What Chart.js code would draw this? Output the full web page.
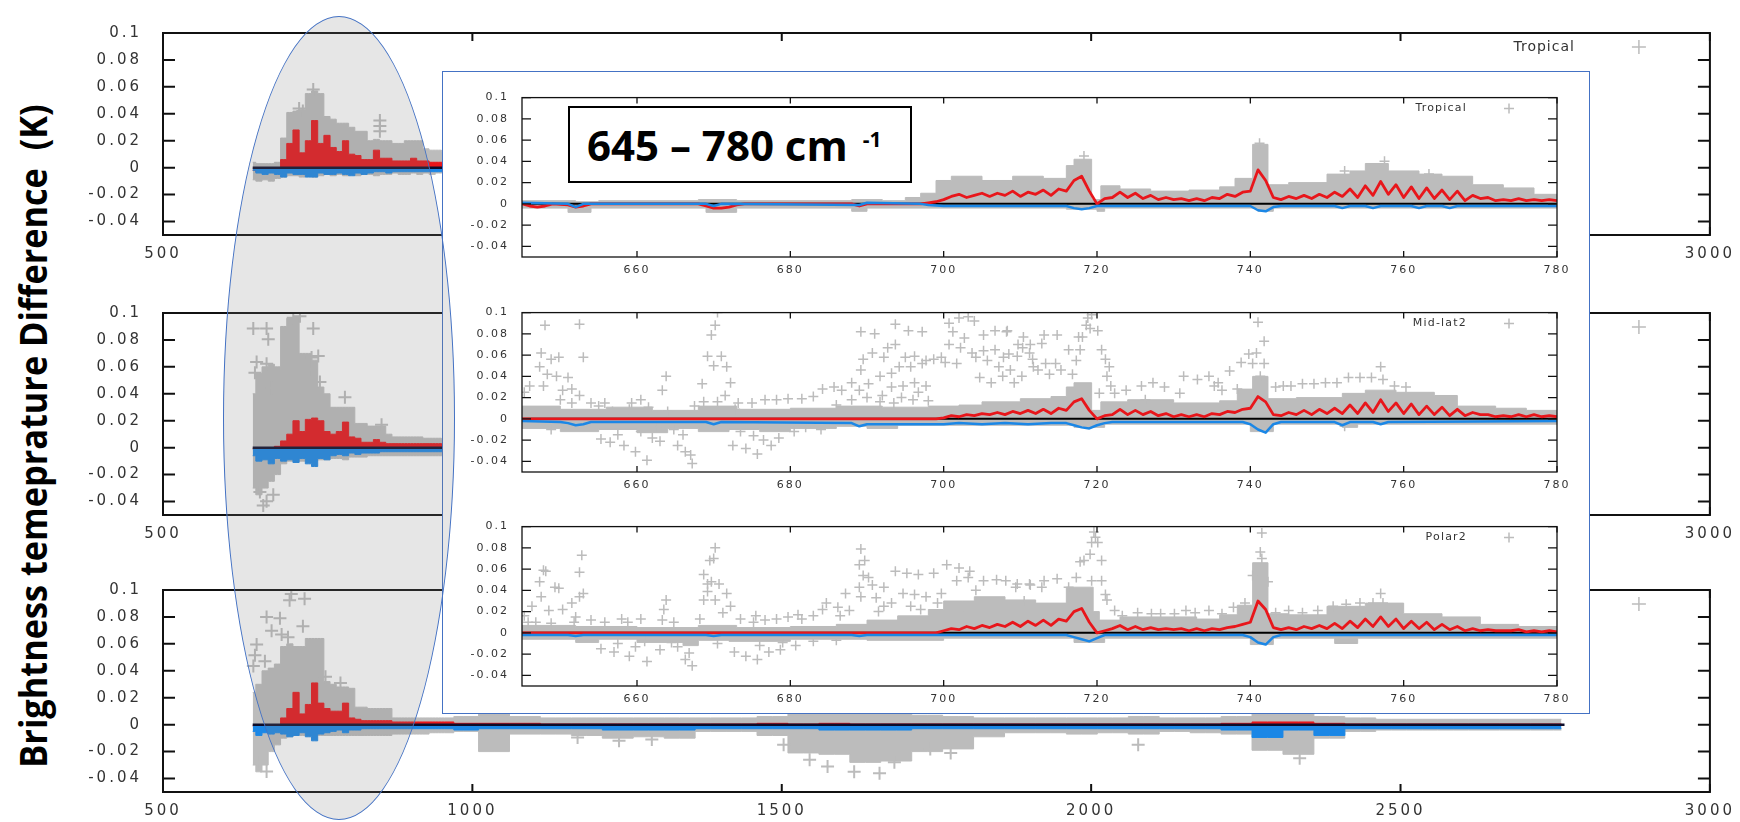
<!DOCTYPE html>
<html>
<head>
<meta charset="utf-8">
<title>Brightness temperature difference</title>
<script src="https://cdn.jsdelivr.net/npm/chart.js@4.4.1/dist/chart.umd.min.js"></script>
<style>
  html, body { margin: 0; padding: 0; background: #fff; overflow: hidden; }
  #stage { position: relative; width: 1740px; height: 822px; overflow: hidden; background: #fff; }
  #stage canvas { position: absolute; }
  .bg { z-index: 1; }
  #inset { position: absolute; left: 442px; top: 71px; width: 1148px; height: 643px; box-sizing: border-box; border: 1.5px solid #4472c4; background: #fff; z-index: 2; }
  .in { z-index: 3; }
  #range { position: absolute; left: 568px; top: 106px; width: 344px; height: 77px; box-sizing: border-box; border: 2px solid #000; background: #fff; z-index: 4; font-family: "Open Sans", sans-serif; font-weight: 700; color: #000; }
  #range .main { position: absolute; left: 17px; top: 16px; font-size: 42px; line-height: 42px; white-space: nowrap; }
  #range sup { font-size: 21px; position: relative; top: -14px; margin-left: 15px; vertical-align: baseline; }
  #oval { position: absolute; left: 223px; top: 16px; width: 232px; height: 804px; box-sizing: border-box; border: 1.5px solid #4472c4; border-radius: 50%; background: rgba(128,128,128,0.2); z-index: 5; }
  #ytitle { position: absolute; font-family: "Open Sans", sans-serif; font-weight: 700; font-size: 38px; line-height: 1; white-space: pre; color: #000; z-index: 6; }
</style>
</head>
<body>
<div id="stage">
  <canvas id="bgTrop" class="bg" width="1666" height="264" style="left:73px;top:3px"></canvas>
  <canvas id="bgMid" class="bg" width="1666" height="264" style="left:73px;top:283px"></canvas>
  <canvas id="bgPol" class="bg" width="1666" height="264" style="left:73px;top:560px"></canvas>
  <div id="inset"></div>
  <canvas id="inTrop" class="in" width="1125" height="201" style="left:452px;top:78px"></canvas>
  <canvas id="inMid" class="in" width="1125" height="201" style="left:452px;top:293px"></canvas>
  <canvas id="inPol" class="in" width="1125" height="201" style="left:452px;top:507px"></canvas>
  <div id="range"><span class="main">645 – 780 cm<sup>-1</sup></span></div>
  <div id="oval"></div>
  <div id="ytitle">Brightness temeprature Difference  (K)</div>
</div>
<script>
// axes
const BG_XTICKS = [500, 1000, 1500, 2000, 2500, 3000];
const IN_XTICKS = [660, 680, 700, 720, 740, 760, 780];
const Y_TICKS = [-0.04, -0.02, 0, 0.02, 0.04, 0.06, 0.08, 0.1];

// full spectrum panels: channel centres (cm-1)
const bgWn = [645,655,665,675,685,695,705,715,725,735,745,755,765,775,785,795,805,815,825,835,845,855,865,875,885,895,905,915,925,935,945,955,
  985,1035,1085,1135,1185,1235,1285,1335,1385,1435,1485,1535,1585,1635,1685,1735,1785,1835,1885,1935,1985,2035,2085,2135,2185,2235,2285,2335,2385,2435,2485,2535,2585,2635,2685,2735,2760];

// Tropical (full range)
const trpBgHi = [.004,.003,.003,.003,.004,.022,.041,.042,.043,.055,.057,.055,.038,.036,.033,.033,.03,.027,.027,.02,.021,.02,.02,.018,.018,.02,.02,.02,.014,.013,.013,.012,
  .012,.01,.009,.008,.008,.008,.007,.007,.006,.006,.006,.008,.01,.01,.009,.008,.008,.006,.006,.006,.006,.007,.006,.006,.006,.008,.01,.01,.008,.006,.005,.004,.004,.004,.004,.004,.004];
const trpBgLo = [-.009,-.01,-.009,-.01,-.008,-.007,-.006,-.006,-.007,-.006,-.007,-.006,-.005,-.006,-.005,-.006,-.005,-.006,-.005,-.005,-.006,-.005,-.005,-.004,-.005,-.005,-.004,-.005,-.004,-.005,-.004,-.004,
  -.005,-.006,-.005,-.005,-.005,-.006,-.005,-.005,-.004,-.004,-.005,-.008,-.009,-.01,-.009,-.007,-.006,-.005,-.005,-.005,-.005,-.005,-.005,-.005,-.005,-.006,-.008,-.008,-.006,-.004,-.004,-.004,-.004,-.004,-.004,-.004,-.004];
const trpBgRed = [-.002,-.003,-.003,-.002,-.001,.006,.018,.028,.011,.02,.035,.018,.024,.015,.012,.02,.01,.009,.006,.006,.013,.007,.007,.005,.005,.005,.007,.005,.005,.004,.004,.004,
  .004,.003,.003,.002,.002,.002,.002,.002,.002,.002,.002,.002,.003,.003,.002,.002,.002,.002,.002,.002,.002,.002,.002,.002,.002,.003,.004,.004,.002,.002,.001,.001,.001,.001,.001,.001,.001];
const trpBgBlue = [-.002,-.004,-.005,-.004,-.005,-.007,-.004,-.005,-.005,-.007,-.007,-.004,-.005,-.005,-.004,-.005,-.006,-.004,-.005,-.004,-.003,-.003,-.004,-.003,-.003,-.003,-.003,-.003,-.003,-.003,-.003,-.003,
  -.003,-.003,-.003,-.003,-.003,-.003,-.003,-.003,-.002,-.002,-.003,-.004,-.004,-.005,-.004,-.003,-.003,-.003,-.003,-.003,-.003,-.003,-.003,-.003,-.003,-.004,-.006,-.004,-.005,-.003,-.002,-.002,-.002,-.002,-.002,-.002,-.002];
const trpBgCross = [[742.8,.058],[850.5,.035],[850.5,.031],[850.5,.027],[720,.044],[726,.042]];

// Mid-lat2 (full range)
const midBgHi = [.04,.055,.06,.062,.06,.09,.096,.096,.07,.07,.065,.045,.04,.03,.03,.03,.03,.018,.018,.016,.016,.016,.01,.008,.008,.008,.008,.008,.007,.007,.007,.006,
  .012,.011,.01,.009,.009,.008,.008,.008,.007,.007,.008,.012,.014,.015,.012,.01,.009,.008,.007,.007,.007,.008,.007,.007,.007,.01,.014,.014,.01,.007,.006,.005,.005,.005,.005,.005,.005];
const midBgLo = [-.03,-.035,-.03,-.025,-.02,-.012,-.01,-.01,-.01,-.01,-.01,-.009,-.009,-.008,-.008,-.009,-.007,-.007,-.007,-.006,-.006,-.006,-.006,-.006,-.006,-.006,-.006,-.006,-.006,-.006,-.006,-.006,
  -.006,-.012,-.007,-.007,-.008,-.009,-.009,-.009,-.006,-.006,-.008,-.016,-.018,-.022,-.02,-.015,-.012,-.008,-.006,-.006,-.007,-.006,-.007,-.006,-.006,-.007,-.014,-.016,-.009,-.005,-.004,-.004,-.004,-.004,-.004,-.004,-.004];
const midBgRed = [-.001,0,0,0,.001,.005,.01,.02,.012,.021,.022,.02,.012,.01,.012,.019,.008,.007,.004,.004,.006,.004,.003,.003,.003,.003,.003,.003,.003,.003,.003,.003,
  .003,.003,.002,.002,.002,.002,.002,.002,.002,.002,.002,.003,.003,.003,.002,.002,.002,.002,.002,.002,.002,.002,.002,.002,.002,.003,.003,.003,.002,.002,.001,.001,.001,.001,.001,.001,.001];
const midBgBlue = [-.006,-.01,-.009,-.012,-.008,-.01,-.009,-.011,-.008,-.012,-.014,-.008,-.009,-.006,-.005,-.006,-.004,-.005,-.004,-.004,-.004,-.003,-.003,-.003,-.003,-.003,-.003,-.003,-.003,-.003,-.003,-.003,
  -.004,-.003,-.003,-.003,-.003,-.004,-.004,-.004,-.003,-.003,-.003,-.004,-.005,-.005,-.004,-.003,-.003,-.003,-.003,-.003,-.003,-.003,-.003,-.003,-.003,-.004,-.008,-.004,-.006,-.003,-.002,-.002,-.002,-.002,-.002,-.002,-.002];
const midBgCross = [[645.9,.0885],[667.4,.0885],[670.1,.0806],[651.3,.0636],[667.4,.0624],[648.6,.0556],[667.4,.0488],[675.5,.0443],
  [710.5,.0965],[721.3,.0976],[742.8,.0885],[740.1,.067],[750.9,.068],[737.5,.058],[753.6,.0488],[794,.0375],[853.2,.017],
  [667.4,-.0397],[656.6,-.033],[678.2,-.035],[662,-.043]];

// Polar2 (full range)
const polBgHi = [.024,.03,.04,.042,.045,.058,.06,.058,.058,.064,.064,.064,.032,.03,.028,.028,.027,.013,.013,.012,.012,.012,.012,.005,.005,.005,.005,.005,.005,.005,.005,.005,
  .006,.008,.006,.005,.005,.005,.005,.005,.005,.005,.006,.008,.01,.01,.008,.007,.006,.005,.005,.005,.005,.005,.006,.005,.005,.006,.008,.008,.006,.005,.004,.004,.004,.004,.004,.004,.004];
const polBgLo = [-.03,-.035,-.03,-.02,-.015,-.01,-.009,-.008,-.008,-.008,-.008,-.008,-.008,-.008,-.008,-.008,-.008,-.008,-.008,-.008,-.008,-.008,-.008,-.007,-.007,-.007,-.007,-.007,-.007,-.006,-.006,-.006,
  -.005,-.02,-.007,-.007,-.008,-.01,-.009,-.01,-.005,-.005,-.008,-.021,-.022,-.028,-.027,-.02,-.018,-.009,-.006,-.006,-.007,-.006,-.007,-.005,-.006,-.007,-.019,-.022,-.01,-.005,-.004,-.004,-.004,-.004,-.004,-.004,-.004];
const polBgRed = [-.001,0,0,0,0,.005,.012,.024,.008,.015,.031,.016,.012,.01,.01,.016,.005,.004,.003,.003,.003,.003,.003,.002,.002,.002,.002,.002,.002,.002,.002,.002,
  .001,.001,.001,.0005,.0005,.0005,.0005,.0005,.0005,.0005,.001,.0005,.001,.0005,.0005,.0005,.0005,.0005,.0005,.0005,.0005,.0005,.0005,.0005,.0005,.001,.002,.002,.001,.0005,.0005,.0005,.0005,.0005,.0005,.0005,.0005];
const polBgBlue = [-.005,-.008,-.006,-.007,-.006,-.007,-.009,-.008,-.006,-.009,-.012,-.007,-.006,-.005,-.004,-.006,-.004,-.004,-.003,-.003,-.003,-.003,-.003,-.003,-.003,-.003,-.003,-.003,-.003,-.003,-.003,-.003,
  -.004,-.003,-.003,-.003,-.003,-.004,-.004,-.004,-.003,-.003,-.003,-.003,-.004,-.004,-.004,-.003,-.003,-.003,-.003,-.003,-.003,-.003,-.003,-.003,-.003,-.004,-.0095,-.004,-.008,-.003,-.003,-.003,-.003,-.003,-.003,-.003,-.003];
const polBgCross = [[707.3,.097],[704.6,.0924],[728.8,.0935],[667.4,.08],[689,.079],[675.5,.0697],[691.7,.067],[726.1,.073],[702,.065],
  [651.3,.0595],[648.6,.0515],[664.7,.047],[646,.0436],[786.8,.031],[762.6,.0356],[667.4,-.0347],[656.6,-.028],
  [1170,-.0095],[1237,-.012],[1290,-.011],[1503,-.015],[1545,-.026],[1574,-.031],[1617,-.035],[1658,-.036],[1682,-.028],
  [1740,-.018],[1773,-.021],[2076,-.015],[2337,-.025]];

// 645-780 zoom: Tropical
const trpRed = [[645,0],[646,-.002],[647,-.003],[648,-.002],[649,0],[651,-.001],[652,-.003],[653,-.002],[654,0],[668,0],[669,-.002],[670,-.004],[671,-.004],[672,-.003],[673,-.001],[674,0],[688,0],[689,-.002],[690,0],[697,0],
  [698,.001],[699,.002],[700,.004],[701,.007],[702,.009],[703,.006],[704,.008],[705,.01],[706,.007],[707,.01],[708,.008],[709,.012],[710,.007],[711,.011],[712,.009],[713,.013],[714,.008],[715,.014],[716,.012],[717,.022],[718,.026],[719,.012],[720,0],
  [721,.005],[722,.006],[723,.011],[724,.006],[725,.01],[726,.005],[727,.008],[728,.004],[729,.006],[730,.004],[731,.005],[732,.003],[733,.005],[734,.003],[735,.006],[736,.005],[737,.009],[738,.007],[739,.011],[740,.012],[741,.032],[742,.022],[743,.006],
  [744,.004],[745,.007],[746,.005],[747,.008],[748,.005],[749,.009],[750,.006],[751,.011],[752,.007],[753,.014],[754,.006],[755,.017],[756,.008],[757,.021],[758,.009],[759,.018],[760,.006],[761,.016],[762,.005],[763,.015],[764,.005],[765,.013],
  [766,.004],[767,.012],[768,.003],[769,.008],[770,.005],[771,.006],[772,.003],[773,.004],[774,.003],[775,.005],[776,.003],[777,.004],[778,.003],[779,.004],[780,.003]];
const trpBlue = [[645,.001],[651,0],[652,-.003],[653,0],[669,0],[670,-.002],[671,0],[689,-.001],[690,.001],[697,0],[698,-.001],[700,-.002],[716,-.002],[717,-.004],[718,-.005],[719,-.004],[720,-.002],[740,-.002],[741,-.006],[742,-.007],[743,-.003],
  [744,-.002],[751,-.002],[752,-.004],[753,-.002],[755,-.002],[756,-.004],[757,-.002],[761,-.002],[762,-.004],[763,-.002],[765,-.002],[766,-.004],[767,-.002],[780,-.002]];
const trpHi = [[645,.003],[652,.002],[655,.003],[668,.004],[673,.003],[688,.004],[692,.003],[695,.006],[697,.01],[699,.022],[701,.026],[705,.022],[709,.026],[713,.024],[716,.036],[717,.042],[719.3,.004],[720.5,.017],[723,.014],[727,.012],[732,.013],
  [736,.016],[738,.024],[740.3,.056],[742.3,.018],[745,.02],[750,.028],[753,.031],[755,.038],[758,.031],[762,.028],[765,.026],[769,.018],[773,.015],[777,.009],[780,.008]];
const trpLo = [[645,-.004],[651,-.008],[654,-.004],[669,-.008],[673,-.004],[688,-.007],[690,-.004],[716,-.005],[720,-.007],[721,-.004],[741,-.007],[743,-.004],[780,-.004]];
const trpCross = [[718.3,.045],[741.2,.057],[752.3,.031],[763.3,.028],[757.5,.04]];

// 645-780 zoom: Mid-lat2
const midRed = [[645,0],[699,0],[700,.001],[701,.003],[702,.002],[703,.004],[704,.003],[705,.005],[706,.004],[707,.006],[708,.004],[709,.007],[710,.005],[711,.008],[712,.005],[713,.009],[714,.005],[715,.01],[716,.008],[717,.016],[718,.019],[719,.008],[720,0],
  [721,.003],[722,.004],[723,.009],[724,.004],[725,.008],[726,.004],[727,.007],[728,.003],[729,.005],[730,.002],[731,.004],[732,.002],[733,.004],[734,.002],[735,.005],[736,.004],[737,.007],[738,.006],[739,.009],[740,.01],[741,.021],[742,.016],[743,.004],
  [744,.003],[745,.006],[746,.004],[747,.008],[748,.004],[749,.009],[750,.005],[751,.01],[752,.005],[753,.013],[754,.005],[755,.015],[756,.006],[757,.018],[758,.007],[759,.015],[760,.005],[761,.014],[762,.004],[763,.012],[764,.004],[765,.011],
  [766,.003],[767,.009],[768,.003],[769,.006],[770,.004],[771,.004],[772,.002],[773,.003],[774,.002],[775,.004],[776,.002],[777,.004],[778,.002],[779,.003],[780,.002]];
const midBlue = [[645,-.002],[650,-.003],[651,-.004],[652,-.006],[653,-.005],[654,-.003],[669,-.003],[670,-.005],[671,-.003],[688,-.004],[689,-.007],[690,-.005],[700,-.005],[702,-.004],[705,-.005],[708,-.004],[711,-.005],[714,-.004],[716,-.004],
  [717,-.006],[718,-.008],[719,-.009],[720,-.006],[721,-.004],[722,-.003],[739,-.003],[740,-.005],[741,-.01],[742,-.013],[743,-.005],[744,-.003],[751,-.003],[752,-.006],[753,-.003],[756,-.003],[757,-.005],[758,-.003],[780,-.002]];
const midHi = [[645,.012],[650,.009],[656,.011],[662,.008],[668,.012],[673,.009],[680,.01],[686,.012],[692,.011],[698,.012],[702,.013],[705,.016],[710,.019],[714,.021],[716,.03],[717,.034],[719.3,.008],[720.5,.016],[724,.018],[730,.015],[736,.017],
  [738.3,.028],[740.3,.04],[742.3,.019],[746,.02],[752,.024],[755,.027],[759,.025],[764,.022],[767,.012],[772,.01],[776,.008],[780,.008]];
const midLo = [[645,-.009],[650,-.012],[655,-.01],[660,-.013],[664,-.009],[668,-.012],[672,-.01],[676,-.012],[680,-.009],[686,-.007],[690,-.009],[694,-.006],[717,-.008],[721,-.005],[740,-.012],[743,-.005],[752,-.008],[754,-.005],[780,-.005]];
const midCross = [[648.0,.088],[652.5,.089],[647.5,.062],[647.3,.049],[648.8,.056],[649.8,.058],[653.0,.058],[648.3,.042],[649.5,.04],[651.0,.039],[646.0,.031],[647.8,.031],[650.3,.027],[651.5,.028],[652.5,.022],[645.3,.025],
  [654.0,.015],[655.8,.015],[648.8,-.01],[651.5,.015],[659.3,.015],[660.5,.018],[659.0,.009],[656.8,.007],[655.3,-.019],[656.5,-.022],[658.3,-.025],[659.8,-.031],[661.3,-.039],[662.0,-.018],[663.0,-.021],[663.8,.04],[663.3,.027],
  [664.0,.007],[665.3,-.025],[666.3,-.031],[667.0,-.034],[667.2,-.042],[664.8,-.01],[668.5,.033],[669.2,.059],[670.0,.05],[669.7,.079],[670.2,.088],[670.5,.1],[671.0,.059],[671.7,.049],[672.2,.034],[671.5,.022],[668.7,.016],
  [670.5,.016],[673.2,.015],[675.0,.015],[672.5,-.025],[674.2,-.028],[675.7,-.033],[677.5,-.025],[675.2,-.016],[676.7,.018],[678.2,.018],[679.7,.019],[681.5,.019],[683.0,.021],[684.2,.028],[685.7,.03],[686.7,.027],[688.0,.034],
  [689.0,.027],[690.2,.033],[689.2,.046],[689.5,.056],[689.2,.082],[691.0,.08],[693.7,.089],[695.4,.083],[697.2,.082],[690.7,.062],[692.7,.067],[692.2,.058],[693.7,.07],[695.0,.058],[696.2,.059],[697.7,.055],[698.7,.056],
  [699.7,.058],[694.2,.049],[695.7,.049],[697.2,.052],[691.7,.04],[693.2,.043],[694.7,.031],[696.2,.034],[697.7,.031],[693.2,.03],[691.7,.016],[693.5,.015],[696.7,.025],[700.7,.09],[702.0,.095],[703.2,.096],[704.0,.092],
  [701.2,.082],[702.7,.076],[705.2,.079],[706.7,.083],[708.2,.082],[710.4,.077],[700.7,.07],[702.2,.067],[703.7,.062],[705.2,.064],[706.7,.065],[708.5,.061],[709.7,.07],[711.2,.062],[700.2,.053],[701.7,.052],[704.2,.058],
  [705.7,.055],[707.2,.049],[708.7,.046],[710.2,.04],[711.7,.049],[704.7,.039],[706.2,.034],[707.7,.04],[709.2,.034],
  [708.3,.083],[710.3,.067],[709.6,.059],[707.8,.058],[711.3,.07],[713.1,.079],[714.8,.079],[712.8,.071],[711.6,.056],[713.3,.052],[714.6,.052],[712.3,.046],[713.8,.042],[715.3,.046],[716.3,.065],[717.8,.065],[717.3,.055],
  [716.8,.042],[717.6,.077],[718.1,.077],[718.6,.088],[718.8,.095],[719.3,.098],[719.1,.085],[720.1,.083],[720.6,.065],[721.1,.056],[721.6,.049],[721.3,.04],[721.8,.031],[720.3,.024],[722.3,.024],[723.8,.027],[725.8,.031],
  [727.3,.034],[728.8,.03],[730.8,.024],[731.3,.04],[733.1,.037],[734.6,.04],[735.8,.034],[737.3,.045],[738.8,.053],[739.8,.061],[740.3,.052],[741.8,.052],[741.8,.073],[741.0,.091],[740.8,.062],[741.3,.04],[743.3,.03],
  [744.3,.031],[745.3,.031],[746.8,.033],[748.3,.033],[749.8,.034],[751.3,.034],[752.8,.039],[754.3,.039],[755.8,.039],[757.0,.049],[757.3,.037],[758.8,.031],[760.3,.03],[736.3,.027],[738.3,.028],[735.3,.031],[726.3,.018],[752.3,-.007],
  [657.5,-.015],[660.5,-.012],[662.5,-.008],[666,-.015],[673.5,-.012],[676.5,-.02],[678.5,-.018],[680.5,-.012],[682,-.008],[684,-.01],[686,.013],[688,.018],[690,.02],[692,.022],[694.5,.02],[696,.018],[698,.017],
  [650,.018],[655,.012],[661.5,.011],[667.5,.012],[672.8,.009]];

// 645-780 zoom: Polar2
const polRed = [[645,0],[699,0],[700,.002],[701,.004],[702,.003],[703,.006],[704,.004],[705,.007],[706,.005],[707,.008],[708,.006],[709,.01],[710,.006],[711,.011],[712,.007],[713,.012],[714,.007],[715,.013],[716,.011],[717,.02],[718,.023],[719,.01],[720,0],
  [721,.002],[722,.004],[723,.007],[724,.003],[725,.006],[726,.003],[727,.005],[728,.003],[729,.004],[730,.003],[731,.004],[732,.002],[733,.004],[734,.002],[735,.004],[736,.003],[737,.005],[738,.006],[739,.008],[740,.01],[741,.03],[742,.022],[743,.005],
  [744,.003],[745,.005],[746,.003],[747,.006],[748,.004],[749,.007],[750,.004],[751,.009],[752,.004],[753,.011],[754,.005],[755,.013],[756,.006],[757,.015],[758,.006],[759,.013],[760,.004],[761,.011],[762,.004],[763,.01],[764,.003],[765,.008],
  [766,.003],[767,.006],[768,.002],[769,.004],[770,.002],[771,.003],[772,.002],[773,.002],[774,.002],[775,.003],[776,.001],[777,.002],[778,.001],[779,.002],[780,.001]];
const polBlue = [[645,-.002],[651,-.002],[652,-.003],[653,-.002],[669,-.002],[670,-.003],[671,-.002],[688,-.002],[689,-.003],[690,-.002],[716,-.002],[717,-.004],[718,-.006],[719,-.008],[720,-.005],[721,-.002],[739,-.002],[740,-.004],[741,-.009],[742,-.011],[743,-.004],[744,-.002],[780,-.002]];
const polHi = [[645,.007],[652,.006],[660,.005],[668,.007],[673,.005],[680,.006],[686,.008],[690,.012],[694,.016],[698,.022],[700,.03],[704,.034],[708,.031],[712,.028],[716,.043],[719.5,.02],[720.3,.012],[723,.015],[733,.013],[736,.017],
  [738.3,.026],[740.3,.066],[742.3,.018],[745,.017],[750,.025],[755,.028],[760,.018],[765,.015],[770,.008],[775,.006],[780,.006]];
const polLo = [[645,-.006],[652,-.009],[655,-.006],[660,-.009],[666,-.012],[668,-.007],[672,-.008],[680,-.006],[690,-.007],[700,-.005],[717,-.009],[721,-.005],[740,-.011],[743,-.005],[751,-.01],[754,-.005],[780,-.005]];
const polCross = [[652.8,.073],[652.5,.057],[647.8,.059],[648.1,.058],[647.3,.048],[649.3,.043],[649.8,.042],[647.5,.034],[651.5,.028],[653.0,.037],[652.5,.034],[648.5,.021],[650.3,.022],[646.3,.025],[645.3,.016],[645.8,.01],
  [646.8,.01],[648.8,.009],[651.8,.01],[654.0,.012],[655.8,.01],[658.8,.01],[660.5,.013],[655.3,-.015],[657.0,-.018],[659.0,-.022],[661.3,-.027],[659.8,-.013],[663.0,-.016],[663.8,.031],[663.5,.022],[663.3,.012],[664.8,.01],
  [665.3,-.013],[666.8,-.019],[667.2,-.031],[666.3,-.025],[668.7,.055],[669.2,.039],[669.5,.068],[670.0,.07],[670.2,.08],[669.7,.048],[670.7,.046],[669.2,.046],[668.7,.031],[670.2,.031],[671.7,.037],[672.2,.025],[671.2,.019],
  [668.2,.013],[673.5,.013],[675.2,.01],[676.7,.012],[678.2,.013],[679.7,.015],[681.5,.013],[683.0,.016],[684.2,.022],[684.7,.028],[686.2,.024],[687.7,.021],[672.7,-.018],[674.2,-.022],[675.7,-.025],[677.2,-.018],[678.7,-.016],
  [680.7,-.012],[689.0,.064],[689.2,.079],[689.7,.068],[689.5,.054],[690.2,.052],[689.0,.043],[690.7,.045],[692.2,.043],[689.2,.034],[691.2,.033],[692.2,.025],[693.7,.058],[695.2,.056],[696.7,.055],[698.7,.056],[700.4,.064],
  [702.0,.061],[703.4,.058],[705.2,.049],[706.9,.05],[709.4,.043],[711.2,.046],[694.7,.037],[696.2,.036],[697.7,.034],[699.7,.037],[701.7,.049],[703.2,.052],[704.2,.04],[693.2,.028],[695.7,.025],[699.2,.028],[687.2,.037],
  [719.6,.095],[719.8,.09],[719.3,.085],[720.1,.085],[719.1,.074],[718.3,.068],[717.8,.067],[720.6,.068],[708.1,.049],[709.6,.046],[711.3,.045],[713.1,.049],[714.8,.051],[712.8,.043],[716.3,.043],[717.3,.052],[719.3,.049],
  [720.6,.049],[721.1,.036],[721.3,.031],[722.3,.021],[723.3,.016],[725.3,.019],[727.1,.018],[728.3,.018],[730.1,.018],[731.6,.021],[732.8,.019],[734.6,.021],[736.3,.018],[737.8,.024],[739.3,.028],[741.5,.094],[741.3,.076],
  [741.5,.07],[740.3,.054],[742.3,.048],[743.3,.019],[745.0,.021],[746.8,.019],[748.8,.021],[750.8,.025],[752.5,.027],[754.3,.028],[756.0,.028],[757.0,.037],[757.3,.028],
  [657.5,-.01],[661,-.008],[664.5,-.009],[670.5,-.01],[676,-.012],[679,-.009],[683,-.008],[686,-.007],[652,.015],[658,.013],[675.5,.016],[681,.017],[686.5,.016],[691.5,.02],[697,.022],[702.5,.025],[706.5,.028],[710.5,.03]];

const BG_ZERO = [[645, 0], [2765, 0]];
const IN_ZERO = [[645, 0], [780, 0]];

const GRAY = '#bcbcbc';
const RED = '#e8161b';
const BLUE = '#1b87e6';
const ZERO = '#0c0c2a';

const zip = (xs, ys) => xs.map((x, i) => [x, ys[i]]);
const fmtY = v => (Math.abs(v) < 1e-9 ? '0' : String(+v.toFixed(2)));
const fmtX = v => String(v);

// gnuplot-like frame, inward ticks on all sides, and the key at top right
const gnuFrame = {
  id: 'gnuFrame',
  beforeDraw(chart, args, o) { chart.ctx.letterSpacing = o.ls; },
  afterDraw(chart, args, o) {
    const { ctx, chartArea: a, scales: { x, y } } = chart;
    ctx.save();
    ctx.letterSpacing = '0px';
    ctx.strokeStyle = '#111';
    ctx.lineWidth = o.lw;
    ctx.strokeRect(a.left, a.top, a.right - a.left, a.bottom - a.top);
    ctx.beginPath();
    x.ticks.forEach(t => {
      const p = x.getPixelForValue(t.value);
      ctx.moveTo(p, a.bottom); ctx.lineTo(p, a.bottom - o.xt);
      ctx.moveTo(p, a.top); ctx.lineTo(p, a.top + o.xt);
    });
    y.ticks.forEach(t => {
      const p = y.getPixelForValue(t.value);
      ctx.moveTo(a.left, p); ctx.lineTo(a.left + o.yt, p);
      ctx.moveTo(a.right, p); ctx.lineTo(a.right - o.yt, p);
    });
    ctx.stroke();
    const k = o.key, ky = a.top + k.dy, cx = a.right - k.cx;
    ctx.letterSpacing = k.ls;
    ctx.font = k.font;
    ctx.fillStyle = '#333';
    ctx.textAlign = 'right';
    ctx.textBaseline = 'middle';
    ctx.fillText(k.text, a.right - k.tx, ky);
    ctx.strokeStyle = GRAY;
    ctx.lineWidth = 1.5;
    ctx.beginPath();
    ctx.moveTo(cx - k.r, ky); ctx.lineTo(cx + k.r, ky);
    ctx.moveTo(cx, ky - k.r); ctx.lineTo(cx, ky + k.r);
    ctx.stroke();
    ctx.restore();
  }
};

function opts(p) {
  return {
    responsive: false, animation: false, events: [],
    layout: { padding: { top: p.padTop, right: p.padRight, left: 0, bottom: 0 } },
    elements: { point: { radius: 0 }, line: { tension: 0, borderJoinStyle: 'round' } },
    plugins: { legend: { display: false }, tooltip: { enabled: false }, gnuFrame: p.frame },
    scales: {
      x: {
        type: 'linear', min: p.xmin, max: p.xmax, bounds: 'data',
        afterBuildTicks: s => { s.ticks = p.xticks.map(v => ({ value: v })); },
        afterFit: s => { s.height = p.xh; },
        grid: { display: false, drawTicks: false }, border: { display: false },
        ticks: { autoSkip: false, maxRotation: 0, padding: p.xpad, color: '#333', callback: fmtX, font: { family: 'DejaVu Sans', size: p.fs } }
      },
      y: {
        min: -0.05, max: 0.1, bounds: 'data',
        afterBuildTicks: s => { s.ticks = Y_TICKS.map(v => ({ value: v })); },
        afterFit: s => { s.width = p.yw; },
        grid: { display: false, drawTicks: false }, border: { display: false },
        ticks: { autoSkip: false, padding: p.ypad, color: '#333', callback: fmtY, font: { family: 'DejaVu Sans', size: p.fs } }
      }
    }
  };
}

function bgPanel(id, key, hi, lo, red, blue, crosses) {
  new Chart(document.getElementById(id), {
    type: 'line',
    data: { datasets: [
      { data: BG_ZERO, borderColor: ZERO, borderWidth: 2.5, order: 0 },
      { data: zip(bgWn, blue), stepped: 'middle', fill: 'origin', borderColor: BLUE, borderWidth: 1, backgroundColor: BLUE, order: 1 },
      { data: zip(bgWn, red), stepped: 'middle', fill: 'origin', borderColor: RED, borderWidth: 1, backgroundColor: RED, order: 2 },
      { data: crosses, showLine: false, pointStyle: 'cross', pointRadius: 6.5, pointBorderWidth: 2, pointBorderColor: GRAY, order: 3 },
      { data: zip(bgWn, hi), stepped: 'middle', fill: 'origin', borderColor: GRAY, borderWidth: 1, backgroundColor: GRAY, order: 4 },
      { data: zip(bgWn, lo), stepped: 'middle', fill: 'origin', borderColor: GRAY, borderWidth: 1, backgroundColor: GRAY, order: 5 }
    ]},
    options: opts({
      xmin: 500, xmax: 3000, xticks: BG_XTICKS, padTop: 12, padRight: 28, xh: 32, yw: 90, xpad: 10, ypad: 21, fs: 15,
      frame: { lw: 2, xt: 8, yt: 12, ls: '3px', key: { text: key, tx: 135, cx: 71, dy: 14, r: 7, font: '14px "DejaVu Sans"', ls: '1px' } }
    }),
    plugins: [gnuFrame]
  });
}

function zoomPanel(id, key, hi, lo, red, blue, crosses) {
  new Chart(document.getElementById(id), {
    type: 'line',
    data: { datasets: [
      { data: IN_ZERO, borderColor: '#000', borderWidth: 2, order: 2 },
      { data: blue, borderColor: BLUE, borderWidth: 2.5, order: 0 },
      { data: red, borderColor: RED, borderWidth: 2.8, order: 1 },
      { data: crosses, showLine: false, pointStyle: 'cross', pointRadius: 5, pointBorderWidth: 1.5, pointBorderColor: GRAY, order: 3 },
      { data: hi, stepped: 'before', fill: 'origin', borderColor: GRAY, borderWidth: 1, backgroundColor: GRAY, order: 4 },
      { data: lo, stepped: 'before', fill: 'origin', borderColor: GRAY, borderWidth: 1, backgroundColor: GRAY, order: 5 }
    ]},
    options: opts({
      xmin: 645, xmax: 780, xticks: IN_XTICKS, padTop: 10, padRight: 20, xh: 22, yw: 70, xpad: 7, ypad: 13, fs: 11,
      frame: { lw: 1.3, xt: 6, yt: 9, ls: '2px', key: { text: key, tx: 90, cx: 48, dy: 11, r: 5, font: '11px "DejaVu Sans"', ls: '1.2px' } }
    }),
    plugins: [gnuFrame]
  });
}

bgPanel('bgTrop', 'Tropical', trpBgHi, trpBgLo, trpBgRed, trpBgBlue, trpBgCross);
bgPanel('bgMid', 'Mid-lat2', midBgHi, midBgLo, midBgRed, midBgBlue, midBgCross);
bgPanel('bgPol', 'Polar2', polBgHi, polBgLo, polBgRed, polBgBlue, polBgCross);
zoomPanel('inTrop', 'Tropical', trpHi, trpLo, trpRed, trpBlue, trpCross);
zoomPanel('inMid', 'Mid-lat2', midHi, midLo, midRed, midBlue, midCross);
zoomPanel('inPol', 'Polar2', polHi, polLo, polRed, polBlue, polCross);

// rotated axis title, squeezed to the length it has in the figure
const t = document.getElementById('ytitle');
const tw = t.offsetWidth, th = t.offsetHeight;
t.style.left = (31 - tw / 2) + 'px';
t.style.top = (436 - th / 2) + 'px';
t.style.transform = 'rotate(-90deg) scaleX(' + (663 / tw) + ')';
</script>
</body>
</html>
